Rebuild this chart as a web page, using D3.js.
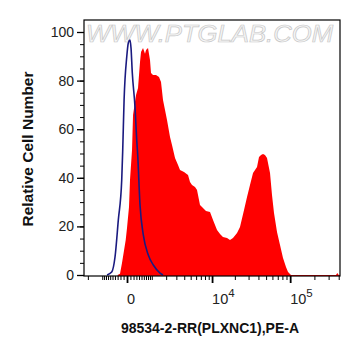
<!DOCTYPE html>
<html>
<head>
<meta charset="utf-8">
<script src="https://cdn.jsdelivr.net/npm/d3@7/dist/d3.min.js"></script>
<style>
  html, body { margin: 0; padding: 0; background: #fff; }
  svg { display: block; }
</style>
</head>
<body>
<svg id="chart" width="361" height="356"></svg>
<script>
// ---- data ----
// sample histogram (red, filled): fluorescence (PE-A) vs relative cell number
const sampleX = [-300, -216, -150, -37, 0, 57, 87, 150, 183, 286, 360, 438, 479, 564, 654, 702, 800, 903, 958, 1071, 1253, 1452, 1594, 1745, 1905, 2073, 2345, 2538, 2853, 3194, 3437, 3968, 4565, 4888, 5232, 5784, 6180, 6816, 7270, 8260, 9378, 10300, 11660, 12780, 13990, 15810, 17300, 18920, 21330, 23300, 26240, 28660, 31280, 34170, 38390, 40690, 43120, 45730, 48410, 51320, 55990, 59290, 62820, 68500, 74700, 81430, 88700, 94000, 102400, 300000, 370000, 385000, 400000, 415000];
const sampleY = [0, 0.5, 4.9, 14.4, 19.3, 28, 39.1, 51.4, 65.8, 74.1, 77, 87.7, 91.8, 93.4, 91, 92.6, 93.4, 88.5, 83.1, 82.3, 82.3, 81.5, 79.4, 72, 67.9, 63.8, 56.8, 53.5, 48.1, 45.3, 43.2, 42.4, 41.2, 38.3, 37, 36.2, 35, 28.8, 28, 26.3, 25.9, 22.6, 18.5, 16.9, 15.6, 15.2, 14.4, 15.2, 17.3, 19.8, 26.7, 32.1, 37, 42, 44.4, 48.6, 49.4, 49.8, 49.4, 48.1, 42, 32.9, 25.5, 17.7, 12.3, 7, 3.3, 1.2, 0, 0, 0, 0.8, 0, 0];
// isotype control histogram (navy line)
const controlX = [-750, -534, -398, -275, -159, -127, -85, -8, 37, 87, 118, 159, 250, 311, 348, 438, 577, 814, 1089, 1523, 1745];
const controlY = [0, 1.2, 7.4, 22.6, 39.1, 51.4, 72, 89.7, 95.5, 96.7, 93.4, 83.1, 69.1, 55.6, 49.4, 28.8, 16.5, 8.2, 4.1, 0.8, 0];

const yTicks = [0, 20, 40, 60, 80, 100];
const yMinor = d3.range(0, 101, 5);
const xMajor = [0, 10000, 100000];
const xMajorLabels = [{base: "0", exp: ""}, {base: "10", exp: "4"}, {base: "10", exp: "5"}];
const xMinor = [-2000, -1000, -900, -800, -700, -600, -500, -400, -300, -200, -100,
  100, 200, 300, 400, 500, 600, 700, 800, 900, 1000, 2000, 3000, 4000, 5000, 6000, 7000, 8000, 9000,
  20000, 30000, 40000, 50000, 60000, 70000, 80000, 90000, 200000, 300000, 400000];

const xTitle = "98534-2-RR(PLXNC1),PE-A";
const yTitle = "Relative Cell Number";
const watermark = "WWW.PTGLAB.COM";

// ---- layout ----
const L = 84, R = 340, T = 20, B = 276;
const svg = d3.select("#chart");

const x = d3.scaleSymlog().constant(980).domain([-2346, 415000]).range([L, R]);
const y = d3.scaleLinear().domain([0, 100]).range([275, 32]);

// watermark
svg.append("text")
  .attr("x", 86).attr("y", 42)
  .attr("font-family", "Liberation Sans, Arial, sans-serif")
  .attr("font-size", 24).attr("font-style", "italic")
  .attr("fill", "#f6f6f6").attr("stroke", "#c8c8c8").attr("stroke-width", 0.7)
  .attr("textLength", 247).attr("lengthAdjust", "spacingAndGlyphs")
  .text(watermark);

svg.append("clipPath").attr("id", "plotclip")
  .append("rect").attr("x", L).attr("y", T).attr("width", R - L).attr("height", B - T);

const sample = sampleX.map((v, i) => [v, sampleY[i]]);
const control = controlX.map((v, i) => [v, controlY[i]]);

const g = svg.append("g").attr("clip-path", "url(#plotclip)");

g.append("path")
  .datum(sample)
  .attr("fill", "#ff0000")
  .attr("d", d3.area().x(d => x(d[0])).y0(y(0) + 1).y1(d => y(d[1])).curve(d3.curveLinear));

g.append("path")
  .datum(control)
  .attr("fill", "none")
  .attr("stroke", "#1a1a80")
  .attr("stroke-width", 1.6)
  .attr("d", d3.line().x(d => x(d[0])).y(d => y(d[1])).curve(d3.curveMonotoneX));

// frame
svg.append("rect").attr("x", L).attr("y", T).attr("width", R - L).attr("height", B - T)
  .attr("fill", "none").attr("stroke", "#000").attr("stroke-width", 1.2);

// y axis
const yAxis = svg.append("g").attr("transform", `translate(${L},0)`);
yAxis.call(d3.axisLeft(y).tickValues(yMinor).tickSize(4).tickFormat(""));
yAxis.call(g2 => g2.select(".domain").remove());
const yMaj = svg.append("g").attr("transform", `translate(${L},0)`)
  .call(d3.axisLeft(y).tickValues(yTicks).tickSize(7).tickPadding(3).tickFormat(d3.format("d")));
yMaj.select(".domain").remove();
yMaj.selectAll("text").attr("font-family", "Liberation Sans, Arial, sans-serif")
  .attr("font-size", 14).attr("fill", "#222");
yMaj.selectAll("line").attr("stroke-width", 1.3);

// x axis
const xAx = svg.append("g").attr("transform", `translate(0,${B})`);
xAx.call(d3.axisBottom(x).tickValues(xMinor).tickSize(4).tickFormat(""));
xAx.select(".domain").remove();
const xMaj = svg.append("g").attr("transform", `translate(0,${B})`)
  .call(d3.axisBottom(x).tickValues(xMajor).tickSize(7).tickFormat(""));
xMaj.select(".domain").remove();
xMaj.selectAll("line").attr("stroke-width", 1.8);

const lab = svg.append("g");
xMajor.forEach((v, i) => {
  const t = lab.append("text")
    .attr("x", x(v)).attr("y", 304)
    .attr("font-family", "Liberation Sans, Arial, sans-serif")
    .attr("font-size", 14.5).attr("fill", "#222").attr("text-anchor", "start");
  t.append("tspan").text(xMajorLabels[i].base);
  if (xMajorLabels[i].exp) {
    t.append("tspan").attr("dy", -7).attr("font-size", 11.5).text(xMajorLabels[i].exp);
  }
});

// titles
svg.append("text")
  .attr("x", 210).attr("y", 333).attr("text-anchor", "middle")
  .attr("font-family", "Liberation Sans, Arial, sans-serif")
  .attr("font-size", 14).attr("font-weight", "bold").attr("fill", "#111")
  .text(xTitle);

svg.append("text")
  .attr("transform", "translate(33,149) rotate(-90)")
  .attr("text-anchor", "middle")
  .attr("font-family", "Liberation Sans, Arial, sans-serif")
  .attr("font-size", 15.5).attr("font-weight", "bold").attr("fill", "#111")
  .text(yTitle);
</script>
</body>
</html>
